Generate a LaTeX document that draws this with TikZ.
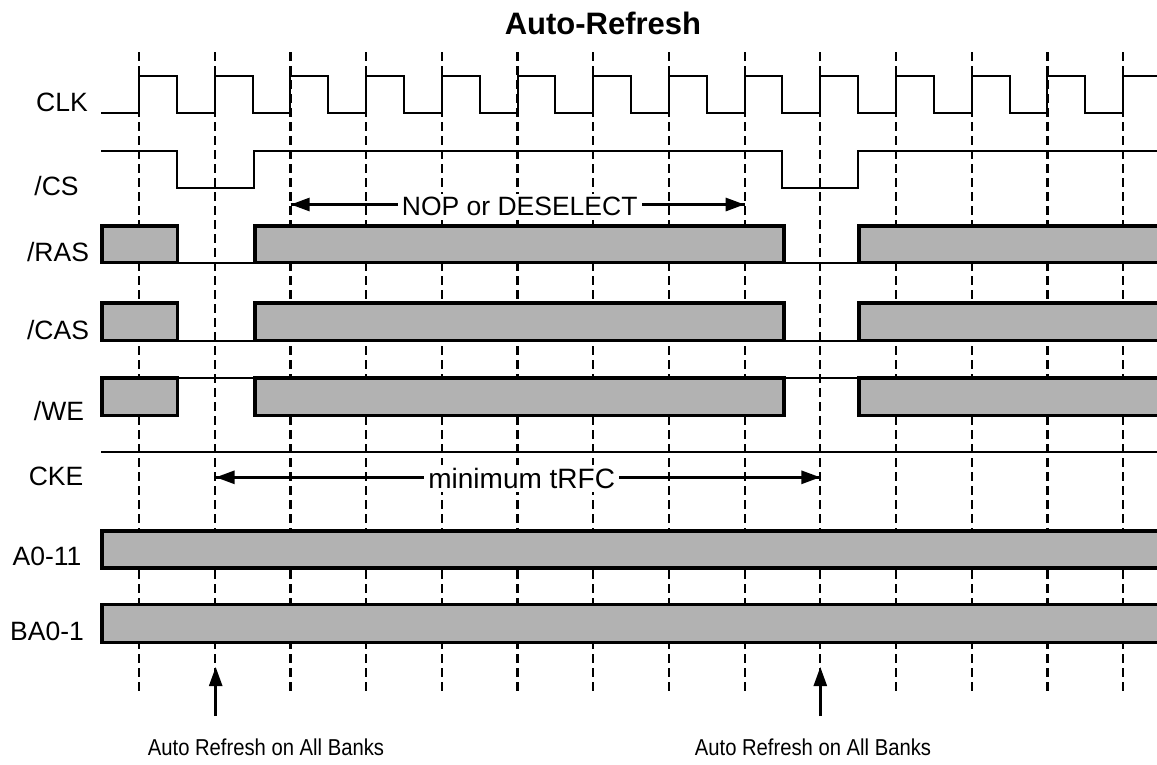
\documentclass[tikz,border=0pt]{standalone}
\usepackage{fontspec}
\setmainfont{Liberation Sans}
\usetikzlibrary{arrows.meta}
\newcommand*{\busbox}[4]{% x left, x right, y top, y bottom
		\filldraw[bus] (#1,#3) rectangle (#2,#4);
}
\newcommand*{\busopen}[3]{% x left, y top, y bottom (runs off the right edge)
		\fill[black!30] (#1,#2) rectangle (1170,#3);
		\draw[busline] (1170,#2) -- (#1,#2) -- (#1,#3) -- (1170,#3);
}
\tikzset{bus/.style={fill=black!30, draw=black, line width=3.5pt},
busline/.style={draw=black, line width=3.5pt, line join=miter}}
\tikzset{sig/.style={line width=2pt},
gridline/.style={line width=2.2pt, dash pattern=on 9pt off 5pt},
arr/.style={line width=3pt, -{Triangle[length=19pt,width=13pt]}},
lbl/.style={font=\fontsize{26.5}{30}\selectfont, anchor=base, inner sep=0pt},
note/.style={font=\fontsize{23}{27}\selectfont, anchor=base, inner sep=0pt}}

\begin{document}
\begin{tikzpicture}[x=1pt,y=-1pt]
			\clip (0,0) rectangle (1157,764);
			\fill[white] (0,0) rectangle (1157,764);
			% clock grid
			\foreach \i in {0,...,13}
				\draw[gridline] ({139+75.7*\i},52) -- ({139+75.7*\i},692);
			% title and signal names
			\node[font=\fontsize{31}{35}\selectfont\bfseries, anchor=base, inner sep=0pt] (title) at (603,34.5) {Auto-Refresh};
			\node[lbl] (clk)  at (62,111)    {CLK};
			\node[lbl] (cs)   at (56.5,195)  {/CS};
			\node[lbl] (ras)  at (58,261.7)  {/RAS};
			\node[lbl] (cas)  at (58,339)    {/CAS};
			\node[lbl] (we)   at (59,420.7)  {/WE};
			\node[lbl] (cke)  at (56,485)    {CKE};
			\node[lbl] (addr) at (47,565)    {A0-11};
			\node[lbl] (bank) at (47,640)    {BA0-1};
			% CLK
			\draw[sig] (101,112.7) \foreach \i in {0,...,12} {
				-- ({139+75.7*\i},112.7) -- ({139+75.7*\i},75.7)
				-- ({176.85+75.7*\i},75.7) -- ({176.85+75.7*\i},112.7)}
				-- (1123.1,112.7) -- (1123.1,75.7) -- (1170,75.7);
			% /CS
			\draw[sig] (101,150.5) -- (176.85,150.5) -- (176.85,187.5) -- (253.55,187.5) -- (253.55,150.5)
				-- (782.45,150.5) -- (782.45,187.5) -- (858.15,187.5) -- (858.15,150.5) -- (1170,150.5);
			% /RAS
			\draw[sig] (177,262.5) -- (255,262.5);
			\draw[sig] (784,262.5) -- (859,262.5);
			\busbox{102}{177.5}{226}{262.5}
			\busbox{255}{784}{226}{262.5}
			\busopen{859}{226}{262.5}
			% /CAS
			\draw[sig] (177,340.7) -- (255,340.7);
			\draw[sig] (784,340.7) -- (859,340.7);
			\busbox{102}{177.5}{303}{340.7}
			\busbox{255}{784}{303}{340.7}
			\busopen{859}{303}{340.7}
			% /WE
			\draw[sig] (177,378) -- (255,378);
			\draw[sig] (784,378) -- (859,378);
			\busbox{102}{177.5}{378}{415.3}
			\busbox{255}{784}{378}{415.3}
			\busopen{859}{378}{415.3}
			% CKE
			\draw[sig] (101,451.7) -- (1170,451.7);
			% A0-11, BA0-1
			\busopen{102}{531}{568}
			\busopen{102}{604.7}{642.3}
			% NOP or DESELECT
			\coordinate (nopL) at (290.7,204.5);
			\coordinate (nopR) at (744.6,204.5);
			\draw[arr] (nopR) -- (nopL);
			\draw[arr] (nopL) -- (nopR);
			\node[lbl, fill=white, inner xsep=4pt, inner ysep=3pt] (nop) at (519.7,215) {NOP or DESELECT};
			% minimum tRFC
			\coordinate (rfcL) at (215.7,477.3);
			\coordinate (rfcR) at (820.3,477.3);
			\draw[arr] (rfcR) -- (rfcL);
			\draw[arr] (rfcL) -- (rfcR);
			\node[lbl, font=\fontsize{28}{32}\selectfont, fill=white, inner xsep=4pt, inner ysep=3pt] (trfc) at (521.7,488.3) {minimum tRFC};
			% refresh commands
			\coordinate (refA) at (215.7,716);
			\coordinate (refAtip) at (215.7,667);
			\coordinate (refB) at (820.3,716);
			\coordinate (refBtip) at (820.3,667);
			\draw[arr, line width=2.5pt] (refA) -- (refAtip);
			\draw[arr, line width=2.5pt] (refB) -- (refBtip);
			\node[note] (refAtext) at (266,755.7) {\scalebox{0.88}[1]{Auto Refresh on All Banks}};
			\node[note] (refBtext) at (813,755.7) {\scalebox{0.88}[1]{Auto Refresh on All Banks}};
		\end{tikzpicture}
\end{document}
